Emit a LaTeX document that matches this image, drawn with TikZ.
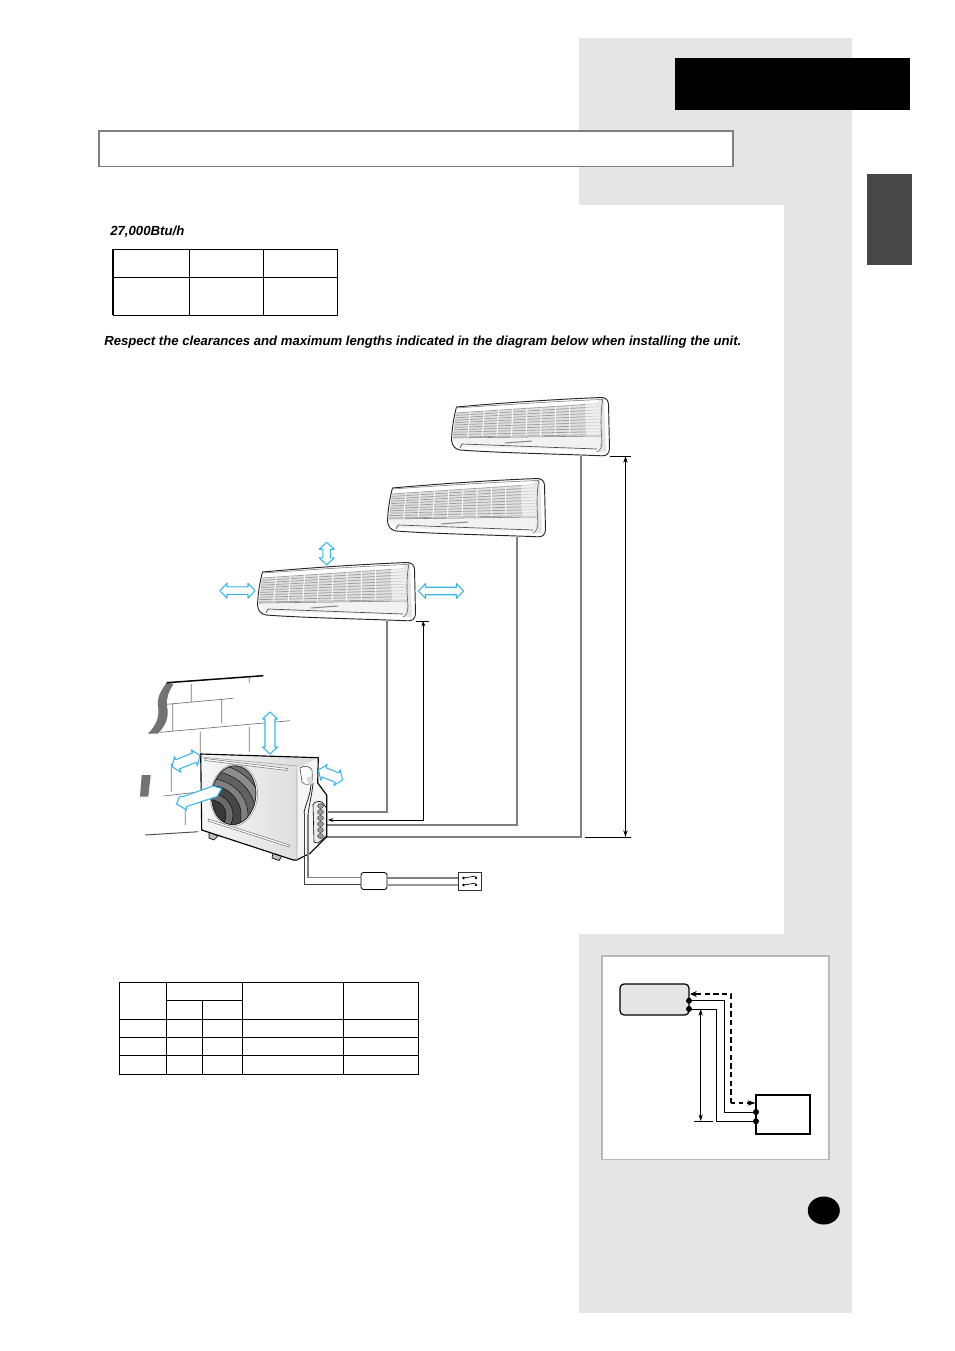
\documentclass[tikz,border=0pt]{standalone}
\usepackage{fontspec}
\setmainfont{Liberation Sans}
\usetikzlibrary{arrows.meta,shapes.geometric}
\definecolor{panel}{HTML}{E5E5E5}
\definecolor{skyb}{HTML}{38B6EE}
\definecolor{pipe}{HTML}{7F7F7F}
\definecolor{tabc}{HTML}{474747}
\tikzset{
  x=0.75pt,y=-0.75pt,
  boxnode/.style={inner sep=0,outer sep=0,anchor=north west},
  pipeline/.style={draw=pipe,line width=1.45pt},
  blackline/.style={draw=black,line width=0.72pt},
  dimline/.style={draw=black,line width=0.7pt},
  tick/.style={draw=black,line width=0.6pt},
  tablegrid/.style={draw=black,line width=0.8pt},
  thingrid/.style={draw=black,line width=0.6pt},
  brick/.style={draw=black!55,line width=0.5pt},
  airflow/.style={draw=skyb,fill=white,line width=0.8pt,line join=round},
  fin/.style={draw=black!38,line width=0.55pt},
  bhead/.style={{Stealth[length=5pt,width=3.2pt]}-{Stealth[length=5pt,width=3.2pt]}},
}
\newcommand\dblarrow[7]{%
  \begin{scope}[shift={(#1,#2)},rotate=#3]
    \pgfmathsetmacro\hl{#4/2}\pgfmathsetmacro\hi{#4/2-#7}
    \pgfmathsetmacro\sw{#5/2}\pgfmathsetmacro\hw{#6/2}
    \draw[airflow] (-\hl,0)--(-\hi,-\hw)--(-\hi,-\sw)--(\hi,-\sw)--(\hi,-\hw)--(\hl,0)--(\hi,\hw)--(\hi,\sw)--(-\hi,\sw)--(-\hi,\hw)--cycle;
  \end{scope}}
\newcommand\indoorunit[2]{%
  \begin{scope}[shift={(#1,#2)}]
    \draw[fill=white,draw=black!85,line width=0.7pt,line join=round]
      (456.5,407) .. controls (500,403) and (560,399) .. (602,397.5)
      .. controls (606,398) and (608,400) .. (608.5,404)
      -- (609.5,449) .. controls (609,454) and (606,456) .. (602,455.8)
      .. controls (560,454) and (500,453) .. (460,450)
      .. controls (455,449) and (452,446) .. (451.5,440)
      .. controls (452,428) and (454,416) .. (456.5,407) -- cycle;
    \fill[black!5] (452,438) -- (600,436) -- (600,450) -- (460,447) -- cycle;
    \fill[black!10] (598,399) -- (604,399) -- (606,452) -- (600,452) -- cycle;
    \fill[black!12] (456,413) -- (585,404.5) -- (586,435) -- (453,437) -- cycle;
    \fill[black!6] (585,404.5) -- (598,403.5) -- (599,435) -- (586,435) -- cycle;
    \foreach \t in {0,0.1,...,1.01}{
      \draw[fin] ({456-3*\t},{413+24*\t}) -- ({585+1*\t},{404.5+30.5*\t});
      \draw[draw=black!20,line width=0.45pt] ({585+1*\t},{404.5+30.5*\t}) -- ({598+1*\t},{403.5+31.5*\t});}
    \foreach \s in {0.1,0.2,...,0.85}{
      \draw[white,line width=0.65pt] ({456+142*\s},{413-9.5*\s}) -- ({453+146*\s},{437-2*\s});}
    \draw[black!55,line width=0.4pt] (453,438) -- (600,436);
    \draw[black!65,line width=0.45pt] (603,398) .. controls (600,415) and (601,430) .. (602,441) .. controls (602,447) and (600,451) .. (597,452);
    \draw[black!70,line width=0.5pt] (460,448) -- (462,444) -- (597,449);
    \draw[black!45,line width=0.8pt] (505,443) -- (532,441);
    \draw[black!55,line width=0.4pt] (456,408) .. controls (500,405) and (560,401) .. (602,399.5);
  \end{scope}}
\begin{document}
\begin{tikzpicture}
\useasboundingbox (0,0) rectangle (954,1351);
\fill[white] (0,0) rectangle (954,1351);
% page panels
\fill[panel] (579,38) rectangle (852,1313);
\fill[white] (579,205) rectangle (784,934);
\node[boxnode,fill=black,minimum width=176.25pt,minimum height=39pt] (titleblock) at (675,58) {};
\node[boxnode,fill=tabc,minimum width=33.75pt,minimum height=68.25pt] (tab) at (867,174) {};
\node[boxnode,draw=black!50,fill=white,line width=1.4pt,minimum width=475.5pt,minimum height=26.6pt] (titlebox) at (99,131) {};
% first table
\node[anchor=west,font=\bfseries\itshape\fontsize{9.9}{11}\selectfont,inner sep=0] (capacity) at (110,231.5) {27,000Btu/h};
\draw[thingrid] (113,249.5) rectangle (337.5,315);
\draw[thingrid] (113,277) -- (337.5,277) (189,249.5) -- (189,315) (263,249.5) -- (263,315);
\draw[black,line width=1.2pt] (113,249.5) -- (113,315);
\node[anchor=west,font=\bfseries\itshape\fontsize{9.85}{11}\selectfont,inner sep=0] (notice) at (104,341.8) {Respect the clearances and maximum lengths indicated in the diagram below when installing the unit.};
% indoor units
\indoorunit{0}{0}
\indoorunit{-64}{81}
\indoorunit{-194}{165}
\coordinate (u1out) at (581,456);
\coordinate (u2out) at (517,537);
\coordinate (u3out) at (387,621);
\coordinate (u3top) at (423.3,621);
\coordinate (p1) at (326,836.7);
\coordinate (p2) at (326,824.7);
\coordinate (p3) at (328,811.7);
\coordinate (p4) at (328,820);
% piping
\draw[pipeline] (u1out) |- (p1);
\draw[pipeline] (u2out) |- (p2);
\draw[pipeline] (u3out) |- (p3);
\draw[blackline,{Stealth[length=4pt,width=3pt]}-{Stealth[length=4pt,width=3pt]}] (u3top) |- (p4);
% dimensions
\coordinate (d1a) at (610,456); \coordinate (d1b) at (631,456);
\coordinate (d2a) at (585,837); \coordinate (d2b) at (631,837);
\coordinate (d3a) at (416,621); \coordinate (d3b) at (429,621);
\draw[tick] (d1a) -- (d1b); \draw[tick] (d2a) -- (d2b); \draw[tick] (d3a) -- (d3b);
\coordinate (d1m) at (625.5,456); \coordinate (d2m) at (625.5,837);
\draw[dimline,bhead] (d1m) -- (d2m);
% wall
\fill[black!55] (166.7,682.5) .. controls (160,692) and (157,698) .. (158,706) .. controls (160,716) and (156,726) .. (148,733.5) -- (158,733.5) .. controls (167,724) and (169,716) .. (167,706) .. controls (166,698) and (169,691) .. (173.5,684) -- cycle;
\draw[black,line width=1.1pt] (166.7,682.7) -- (263.3,675.7);
\draw[brick] (166.7,704.3) -- (233.3,698.3) (160,732.3) -- (290,720.7)
  (191.3,684) -- (191.3,701.7) (172.7,704.3) -- (172.7,731)
  (221.7,699.3) -- (221.7,723.3) (249.3,677) -- (249.3,683)
  (200.3,731.7) -- (200.3,754) (249.3,726.7) -- (249.3,751.7)
  (171.3,763.3) -- (171.3,791.7) (163.3,796) -- (201.7,791.7)
  (185.3,810) -- (185.3,825);
\draw[black!70,line width=0.7pt] (145,835) -- (198.3,831.7);
\fill[black!55] (141.7,775) -- (150.7,775) -- (148.3,796.7) -- (140,796.7) -- cycle;
% outdoor unit: feet
\draw[black,fill=black!25,line width=0.5pt] (209,832) -- (218,836) -- (214,840) -- (209,838) -- cycle;
\draw[black,fill=black!25,line width=0.5pt] (273,853) -- (282,856) -- (279,860.5) -- (272,858) -- cycle;
% body
\shade[left color=black!3,right color=black!16] (200.7,754) -- (318.3,757.7) -- (317.7,783) -- (326.7,795) -- (326.7,836.7) -- (310,853.3) -- (296.7,860) -- (293.3,860) -- (201.7,830) -- cycle;
\fill[black!4] (297,768.5) -- (318,758) -- (317.7,783) -- (326.7,795) -- (326.7,836.7) -- (310,853.3) -- (297,860) -- cycle;
\draw[black,line width=0.85pt,line join=round] (200.7,754) -- (318.3,757.7) -- (317.7,783) -- (326.7,795) -- (326.7,836.7) -- (310,853.3) -- (296.7,860) -- (293.3,860) -- (201.7,830) -- cycle;
\draw[black!35,line width=0.5pt] (200.7,757) -- (297,766) (297,768.5) -- (297,860);
\draw[black!55,fill=white,line width=0.4pt] (205,758.5) -- (287.5,768.5) -- (287,770.5) -- (205,760.5) -- cycle;
\draw[black!55,fill=white,line width=0.4pt] (208.5,819) -- (289.5,845) -- (289,847) -- (208,821) -- cycle;
% fan
\draw[black!40,fill=white,line width=0.45pt,rotate around={-6:(234,795.2)}] (234,795.2) ellipse (23.5 and 31);
\begin{scope}
  \clip[rotate around={-6:(234,795.2)}] (233.8,795.2) ellipse (22 and 29.5);
  \fill[black!65] (205,760) rectangle (262,830);
  \foreach \r/\g in {63/58,54/45,46/62,38/50,31/72,23/58,16/78}{
    \draw[black,line width=0.3pt,fill=black!\g] (210,815) ellipse ({\r} and {\r*0.95});}
\end{scope}
\draw[black!85,line width=0.6pt,rotate around={-6:(234,795.2)}] (233.8,795.2) ellipse (22 and 29.5);
% side details
\draw[black!70,fill=white,line width=0.45pt] (300,768) .. controls (304,765) and (310,766) .. (312,770) -- (312.5,780) .. controls (311,785) and (305,786) .. (302,782) -- cycle;
\draw[black,fill=black!8,line width=0.45pt] (313,805) .. controls (314,801) and (320,801) .. (322,802) -- (326.5,808) -- (326.5,836) -- (318,843) -- (314,842) -- cycle;
\foreach \yy in {806,812,...,840}{\draw[black!80,fill=black!40,line width=0.3pt] (320.5,\yy) circle (3 and 2.5);}
% airflow arrows
\dblarrow{237.5}{590.7}{0}{35}{7.5}{15}{7}
\dblarrow{441}{591}{0}{45}{7.5}{15}{7}
\dblarrow{326.7}{553.6}{90}{22.7}{7.5}{15}{7}
\dblarrow{270}{733}{90}{42}{10}{15}{7}
\dblarrow{186}{761}{22}{30}{10}{17}{6}
\dblarrow{330.5}{775}{-22}{26}{10}{17}{6}
\draw[airflow] (221.7,788.5) -- (213,786) -- (185,796) -- (179.5,797) -- (176.5,804) -- (186.7,810) -- (186.7,806.5) -- (217,796.5) -- cycle;
% power supply
\coordinate (c1) at (304,813); \coordinate (c2) at (308,815);
\coordinate (fa) at (361,884.5); \coordinate (fb) at (361,877.5);
\node[boxnode,draw=black,fill=white,rounded corners=2pt,line width=0.6pt,minimum width=19.5pt,minimum height=12.75pt] (fuse) at (361,872.5) {};
\node[boxnode,draw=black!80,fill=white,line width=0.6pt,minimum width=17.5pt,minimum height=13.5pt] (switch) at (458,872) {};
\draw[black!75,line width=0.7pt] (c1) |- (fa);
\draw[black!50,line width=1pt] (c2) |- (fb);
\draw[black!50,line width=1pt] (387,878) -- (458,878);
\draw[black!40,line width=1.1pt] (387,885) -- (458,885);
\draw[black!85,line width=0.6pt] (311,783) .. controls (311,795) and (305,805) .. (304,813);
\draw[black!85,line width=0.6pt] (313,783) .. controls (312,795) and (309,805) .. (308,815);
\fill[black!15] (306,778) -- (312,776) -- (313,783) -- (309,785) -- cycle;
\foreach \ya/\yb in {878/876,885/883}{
  \fill (463.5,\ya) circle (1.3) (476,\ya) circle (1.3);
  \draw[black,line width=0.5pt] (463.5,\ya) -- (476,\yb);}
% bottom-left table
\draw[tablegrid] (119.3,982.7) rectangle (418.3,1074.3);
\draw[tablegrid] (119.3,1019.3) -- (418.3,1019.3) (119.3,1037.3) -- (418.3,1037.3) (119.3,1055.3) -- (418.3,1055.3)
  (166.3,1000.3) -- (242.3,1000.3)
  (166.3,982.7) -- (166.3,1074.3) (202.3,1000.3) -- (202.3,1074.3)
  (242.3,982.7) -- (242.3,1074.3) (343.3,982.7) -- (343.3,1074.3);
% wiring panel
\node[boxnode,draw=black!28,fill=white,line width=1.4pt,minimum width=170.25pt,minimum height=152.6pt] (wirepanel) at (602,956) {};
\node[boxnode,draw=black,fill=panel,rounded corners=3pt,line width=0.95pt,minimum width=51.7pt,minimum height=23.2pt] (indoorbox) at (620,984) {};
\node[boxnode,draw=black,fill=white,line width=1.3pt,minimum width=40.5pt,minimum height=29.2pt] (outdoorbox) at (756,1095) {};
\coordinate (a1) at (689,1000.7); \coordinate (a2) at (689,1009);
\coordinate (b1) at (756,1112); \coordinate (b2) at (756,1121.3);
\coordinate (a3) at (690,994); \coordinate (b3) at (755.5,1103);
\fill (a1) circle (3) (a2) circle (3) (b1) circle (3) (b2) circle (3);
\draw[blackline] (a1) -- (724.3,1000.7) -- (724.3,1112) -- (b1);
\draw[blackline] (a2) -- (716.3,1009) -- (716.3,1121.3) -- (b2);
\draw[black,line width=1.4pt,dash pattern=on 4pt off 2.5pt] (696,994) -- (730.7,994) -- (730.7,1103);
\draw[black,line width=1.2pt,-{Stealth[length=5pt,width=4.5pt]}] (696,994) -- (a3);
\draw[black,line width=0.8pt,dashed,-{Stealth[length=6pt,width=4pt]}] (730.7,1103) -- (b3);
\coordinate (d4a) at (700.7,1009); \coordinate (d4b) at (700.7,1121);
\draw[dimline,bhead] (d4a) -- (d4b);
\coordinate (d5a) at (694,1121.3); \coordinate (d5b) at (713,1121.3);
\draw[tick] (d5a) -- (d5b);
% page-number disc
\node[fill=black,ellipse,minimum width=24pt,minimum height=21pt,inner sep=0] (pagedisc) at (823.8,1210.5) {};
\end{tikzpicture}
\end{document}
